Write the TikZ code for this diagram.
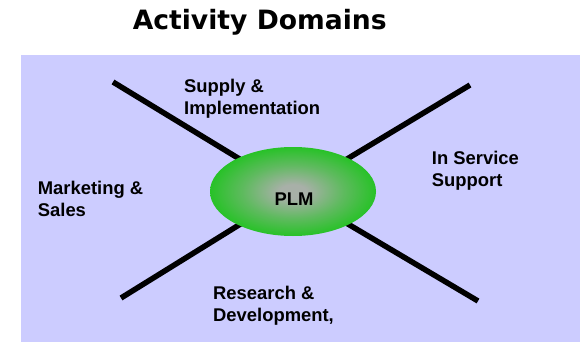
\documentclass[tikz,border=0pt]{standalone}
\usepackage{fontspec}
\usetikzlibrary{shapes.geometric}
\setmainfont{Liberation Sans}
\newfontfamily\titlefont{DejaVu Sans}
\definecolor{bgblue}{HTML}{CCCCFF}
\definecolor{plmgreen}{HTML}{17C417}
\definecolor{plmgray}{HTML}{A8B0A8}
\pgfdeclareradialshading{plmshade}{\pgfpoint{0bp}{0bp}}{%
  color(0bp)=(plmgray);
  color(4bp)=(plmgray);
  color(15bp)=(plmgray!50!plmgreen);
  color(28bp)=(plmgreen);
  color(50bp)=(plmgreen)}
\begin{document}
\begin{tikzpicture}[x=1pt,y=-1pt,
  domlabel/.style={anchor=base west,inner sep=0pt,align=left,
    font=\fontsize{18.4}{21.7}\selectfont\bfseries},
  spoke/.style={line width=5.5pt},
  hubnode/.style={ellipse,minimum width=166pt,minimum height=89pt,inner sep=0pt,
    shading=plmshade}]
\useasboundingbox (0,0) rectangle (580,342);
\fill[white] (0,0) rectangle (580,342);
\fill[bgblue] (21,55) rectangle (580,342);
\node[anchor=base,inner sep=0pt,font=\titlefont\fontsize{26.6}{30}\selectfont\bfseries] (title) at (259.7,30) {Activity Domains};
\coordinate (hub) at (293,191.5);
\coordinate (ul) at (113,82);
\coordinate (ur) at (470,85);
\coordinate (ll) at (121,298);
\coordinate (lr) at (478,301);
\draw[spoke] (ul) -- (hub);
\draw[spoke] (ur) -- (hub);
\draw[spoke] (ll) -- (hub);
\draw[spoke] (lr) -- (hub);
\node[hubnode] (plm) at (hub) {};
\node[anchor=base,inner sep=0pt,font=\fontsize{18.4}{21.7}\selectfont\bfseries] (plmtext) at (294,205.7) {PLM};
\node[domlabel] (supply) at (184,114) {Supply \&\\Implementation};
\node[domlabel] (service) at (431.7,186) {In Service\\Support};
\node[domlabel] (market) at (37.7,216) {Marketing \&\\Sales};
\node[domlabel] (research) at (213,321) {Research \&\\Development,};
\end{tikzpicture}
\end{document}
